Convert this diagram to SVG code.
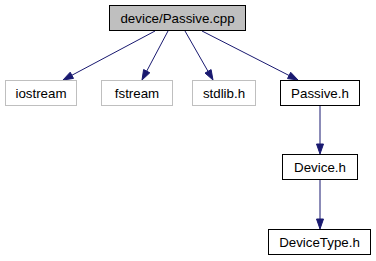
<svg xmlns="http://www.w3.org/2000/svg" width="376" height="261" viewBox="0 0 376 261">
  <style>
    text { font-family: "Liberation Sans", Arial, sans-serif; font-size: 13.33px; text-anchor: middle; fill: #000; }
    .box { fill: #fff; stroke: #000; stroke-width: 1; }
    .sys { fill: #fff; stroke: #bfbfbf; stroke-width: 1; }
    .root { fill: #bfbfbf; stroke: #000; stroke-width: 1; }
    .edge line { stroke: #191970; stroke-width: 1; }
    .edge polygon { fill: #191970; stroke: #191970; stroke-width: 1; }
  </style>
  <rect width="376" height="261" fill="#fff"/>

  <!-- include edges -->
  <g id="edges" class="edge">
    <line x1="155" y1="31" x2="71.8" y2="75.3"/>
    <polygon points="63,80 73.5,78.4 70.2,72.2"/>
    <line x1="168" y1="31" x2="146.7" y2="71.2"/>
    <polygon points="142,80 149.8,72.8 143.6,69.5"/>
    <line x1="185" y1="31" x2="208" y2="71.3"/>
    <polygon points="213,80 211.1,69.6 205,73.1"/>
    <line x1="202" y1="31" x2="289.1" y2="75.5"/>
    <polygon points="298,80 290.7,72.3 287.5,78.6"/>
    <line x1="320" y1="105" x2="320" y2="144"/>
    <polygon points="320,154 316.5,144 323.5,144"/>
    <line x1="320" y1="179" x2="320" y2="219"/>
    <polygon points="320,229 316.5,219 323.5,219"/>
  </g>

  <g id="node-passive-cpp">
    <rect class="root" x="109.5" y="5.5" width="136" height="25"/>
    <text x="177.5" y="22.5">device/Passive.cpp</text>
  </g>
  <g id="node-iostream">
    <rect class="sys" x="5.5" y="80.5" width="71" height="25"/>
    <text x="41" y="97.5">iostream</text>
  </g>
  <g id="node-fstream">
    <rect class="sys" x="101.5" y="80.5" width="71" height="25"/>
    <text x="137" y="97.5">fstream</text>
  </g>
  <g id="node-stdlib">
    <rect class="sys" x="192.5" y="80.5" width="63" height="25"/>
    <text x="224" y="97.5">stdlib.h</text>
  </g>
  <g id="node-passive-h">
    <rect class="box" x="280.5" y="80.5" width="79" height="25"/>
    <text x="320" y="97.5">Passive.h</text>
  </g>
  <g id="node-device-h">
    <rect class="box" x="282.5" y="154.5" width="75" height="25"/>
    <text x="320" y="171.5">Device.h</text>
  </g>
  <g id="node-devicetype-h">
    <rect class="box" x="268.5" y="229.5" width="102" height="25"/>
    <text x="319.5" y="246.5">DeviceType.h</text>
  </g>
</svg>
